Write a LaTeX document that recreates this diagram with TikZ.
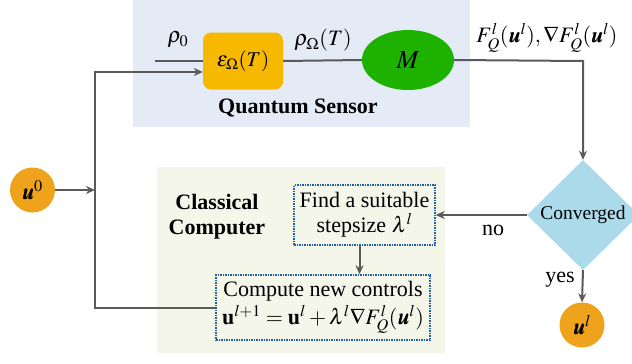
\documentclass[tikz,border=0pt]{standalone}
\usepackage{amsmath}
\usepackage{mathptmx}
\usepackage{fontspec}
\setmainfont{Liberation Serif}
\usepackage{bm}
\usetikzlibrary{shapes.geometric,arrows.meta}
\definecolor{bgblue}{HTML}{E4EBF6}
\definecolor{bggreen}{HTML}{F3F6E9}
\definecolor{epsorange}{HTML}{F6B900}
\definecolor{circorange}{HTML}{EFA31D}
\definecolor{measgreen}{HTML}{1DB100}
\definecolor{decblue}{HTML}{ABDAEB}
\definecolor{dotblue}{HTML}{1F5F9F}
\definecolor{linegray}{HTML}{5A5A5A}
\tikzset{
  conn/.style={draw=linegray, line width=2pt},
  arr/.style={conn, -{Stealth[length=9pt,width=8pt]}},
  epsbox/.style={fill=epsorange, draw=none, rounded corners=8pt, minimum width=80pt, minimum height=57pt, inner sep=0pt},
  meas/.style={ellipse, fill=measgreen, draw=none, minimum width=92pt, minimum height=60pt, inner sep=0pt},
  dec/.style={diamond, fill=decblue, draw=none, minimum width=112pt, minimum height=110pt, inner sep=0pt, font=\fontsize{19.5}{21}\selectfont},
  circ/.style={circle, fill=circorange, draw=none, minimum size=45pt, inner sep=0pt},
  dotbox/.style={draw=dotblue, densely dotted, line width=1.5pt, align=center, inner sep=0pt},
  lbl/.style={inner sep=0pt}
}
\begin{document}
\begin{tikzpicture}[x=1pt,y=-1pt, font=\fontsize{22}{25}\selectfont]
\useasboundingbox (0,0) rectangle (632,364);
\fill[bgblue] (133,0) rectangle (470,127);
\fill[bggreen] (157,167) rectangle (445,353);

\node[epsbox] (eps) at (243,61) {\fontsize{21}{23}\selectfont$\varepsilon_\Omega(T)$};
\node[meas] (M) at (408,60) {\fontsize{26}{28}\selectfont$M$};
\node[lbl] (qs) at (298,108) {\bfseries Quantum Sensor};
\node[dec] (conv) at (583,215) {Converged};
\node[circ] (u0) at (32.5,190) {$\bm{u}^0$};
\node[circ] (ul) at (582,325) {$\bm{u}^l$};
\node[dotbox, minimum width=141pt, minimum height=60pt] (find) at (364.5,215) {Find a suitable\\stepsize $\lambda^l$};
\node[dotbox, minimum width=214pt, minimum height=65pt] (comp) at (323,307.5) {Compute new controls\\[3pt]$\mathbf{u}^{l+1}=\mathbf{u}^l+\lambda^l\nabla F_Q^l(\bm{u}^l)$};
\node[lbl, align=center] (cc) at (217,217) {\bfseries Classical\\\bfseries Computer};

\node[lbl] (rho0) at (178,40) {$\rho_0$};
\node[lbl] (rhoT) at (323,40) {$\rho_\Omega(T)$};
\node[lbl] (F) at (547,38) {$F_Q^l(\bm{u}^l),\nabla F_Q^l(\bm{u}^l)$};
\node[lbl] (no) at (493,230) {no};
\node[lbl] (yes) at (560,280) {yes};

\coordinate (in) at (155,61);
\coordinate (lx) at (95,72);
\coordinate (lm) at (95,190);
\coordinate (corner) at (583,61);

\draw[conn] (in) -- (eps.west);
\draw[conn] (eps.east) -- (M.west);
\draw[arr] (M.east) -- (corner) -- (conv.north);
\draw[arr] (conv.west) -- (find.east);
\draw[arr] (conv.south) -- (ul.north);
\draw[arr] ([xshift=-5pt]find.south) -- ([xshift=-5pt]find.south |- comp.north);
\draw[arr] (comp.west) -| (lx) -- (eps.west |- lx);
\draw[arr] (u0.east) -- (lm);
\end{tikzpicture}
\end{document}
